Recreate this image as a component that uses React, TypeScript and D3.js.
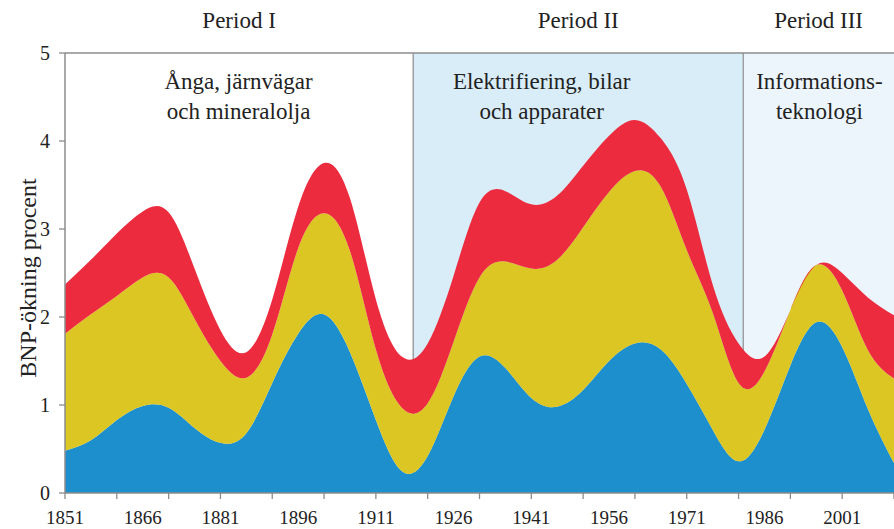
import React from 'react';
import * as d3 from 'd3';

// ---- data ----
const years = [1851, 1856, 1861, 1866, 1871, 1876, 1881, 1886, 1891, 1896, 1901, 1906, 1911, 1916, 1921, 1926, 1931, 1936, 1941, 1946, 1951, 1956, 1961, 1966, 1971, 1976, 1981, 1986, 1991, 1996, 2001, 2006, 2011];
const blueValues = [0.48, 0.60, 0.83, 0.99, 0.97, 0.74, 0.57, 0.68, 1.25, 1.81, 2.03, 1.60, 0.83, 0.25, 0.42, 1.10, 1.55, 1.42, 1.08, 0.98, 1.17, 1.50, 1.70, 1.63, 1.24, 0.72, 0.36, 0.72, 1.45, 1.94, 1.66, 0.95, 0.34];
const yellowValues = [1.33, 1.43, 1.41, 1.46, 1.48, 1.24, 0.93, 0.63, 0.55, 0.97, 1.15, 1.15, 0.80, 0.72, 0.60, 0.62, 0.90, 1.21, 1.47, 1.67, 1.85, 1.92, 1.96, 1.85, 1.52, 1.33, 0.89, 0.66, 0.63, 0.65, 0.64, 0.67, 0.96];
const redValues = [0.56, 0.62, 0.71, 0.75, 0.74, 0.57, 0.35, 0.29, 0.40, 0.47, 0.57, 0.60, 0.57, 0.58, 0.68, 0.75, 0.85, 0.80, 0.73, 0.73, 0.70, 0.64, 0.58, 0.55, 0.69, 0.32, 0.45, 0.17, 0.00, 0.00, 0.20, 0.60, 0.72];
const yTickValues = [0, 1, 2, 3, 4, 5];
const xTickYears = [1851, 1861, 1871, 1881, 1891, 1901, 1911, 1921, 1931, 1941, 1951, 1961, 1971, 1981, 1991, 2001, 2011];
const xLabelYears = [1851, 1866, 1881, 1896, 1911, 1926, 1941, 1956, 1971, 1986, 2001];
const periodStarts = [1851, 1918.2, 1981.9];
const periodEnds = [1918.2, 1981.9, 2011];
const periodLabels = ['Period I', 'Period II', 'Period III'];
const periodNotes = [
  ['Ånga, järnvägar', 'och mineralolja'],
  ['Elektrifiering, bilar', 'och apparater'],
  ['Informations-', 'teknologi'],
];
const noteYears = [1884.5, 1943, 1996.6];
const yLabel = 'BNP-ökning procent';

// ---- layout ----
const W = 894, H = 529;
const M = { left: 65, top: 53, right: 0, bottom: 36 };
const FONT = '"Liberation Serif", "Times New Roman", serif';
const COLORS = ['#1e8fcd', '#dcc623', '#ec2c3e'];
const BGS = ['#ffffff', '#d9edf8', '#ecf5fc'];
const AXIS = '#8c8c8c';

export default function App() {
  const x = d3.scaleLinear().domain([1851, 2011]).range([M.left, W - M.right]);
  const y = d3.scaleLinear().domain([0, 5]).range([H - M.bottom, M.top]);

  const table = years.map((yr, i) => ({ year: yr, blue: blueValues[i], yellow: yellowValues[i], red: redValues[i] }));
  const series = d3.stack<any>().keys(['blue', 'yellow', 'red'])(table);
  const area = d3
    .area<any>()
    .x((d) => x(d.data.year))
    .y0((d) => y(d[0]))
    .y1((d) => y(d[1]))
    .curve(d3.curveNatural);

  const y0 = y(0);
  const yTop = y(5);

  return (
    <svg width={W} height={H} style={{ position: 'absolute', left: 0, top: 0, background: '#fff' }} fontFamily={FONT}>
      <defs>
        <clipPath id="plotClip">
          <rect x={M.left} y={yTop} width={W - M.left} height={y0 - yTop} />
        </clipPath>
      </defs>
      {/* period backgrounds */}
      {periodStarts.map((s, i) => (
        <rect key={'bg' + i} x={x(s)} y={yTop} width={x(periodEnds[i]) - x(s)} height={y0 - yTop} fill={BGS[i]} />
      ))}
      {/* period divider lines */}
      {periodStarts.slice(1).map((s, i) => (
        <line key={'pl' + i} x1={x(s)} x2={x(s)} y1={yTop} y2={y0} stroke={AXIS} strokeWidth={1.2} />
      ))}
      {/* top border */}
      <line x1={M.left} x2={W} y1={yTop} y2={yTop} stroke={AXIS} strokeWidth={1.5} />

      {/* stacked areas */}
      <g clipPath="url(#plotClip)">
        {series.map((s, i) => (
          <path key={'a' + i} d={area(s as any) || ''} fill={COLORS[i]} />
        ))}
      </g>

      {/* axes */}
      <line x1={M.left} x2={M.left} y1={yTop} y2={y0} stroke={AXIS} strokeWidth={1.5} />
      <line x1={M.left} x2={W} y1={y0} y2={y0} stroke={AXIS} strokeWidth={1.5} />
      {yTickValues.map((v) => (
        <g key={'yt' + v}>
          <line x1={M.left - 6} x2={M.left} y1={y(v)} y2={y(v)} stroke={AXIS} strokeWidth={1.3} />
          <text x={M.left - 15} y={y(v)} dy="0.33em" textAnchor="end" fontSize={20} fill="#222">
            {v}
          </text>
        </g>
      ))}
      {xTickYears.map((yr) => (
        <line key={'xt' + yr} x1={x(yr)} x2={x(yr)} y1={y0} y2={y0 + 6} stroke={AXIS} strokeWidth={1.3} />
      ))}
      {xLabelYears.map((yr) => (
        <text key={'xl' + yr} x={x(yr)} y={524} textAnchor="middle" fontSize={19} fill="#222">
          {yr}
        </text>
      ))}

      {/* y label */}
      <text transform={`translate(36, 278) rotate(-90)`} textAnchor="middle" fontSize={24} fill="#222">
        {yLabel}
      </text>

      {/* period titles */}
      {periodLabels.map((p, i) => (
        <text key={'pt' + i} x={x((periodStarts[i] + periodEnds[i]) / 2)} y={28} textAnchor="middle" fontSize={23} fill="#222">
          {p}
        </text>
      ))}
      {/* period notes */}
      {periodNotes.map((lines, i) =>
        lines.map((ln, j) => (
          <text key={'pn' + i + '-' + j} x={x(noteYears[i])} y={89 + j * 30} textAnchor="middle" fontSize={23} fill="#222">
            {ln}
          </text>
        ))
      )}
    </svg>
  );
}
